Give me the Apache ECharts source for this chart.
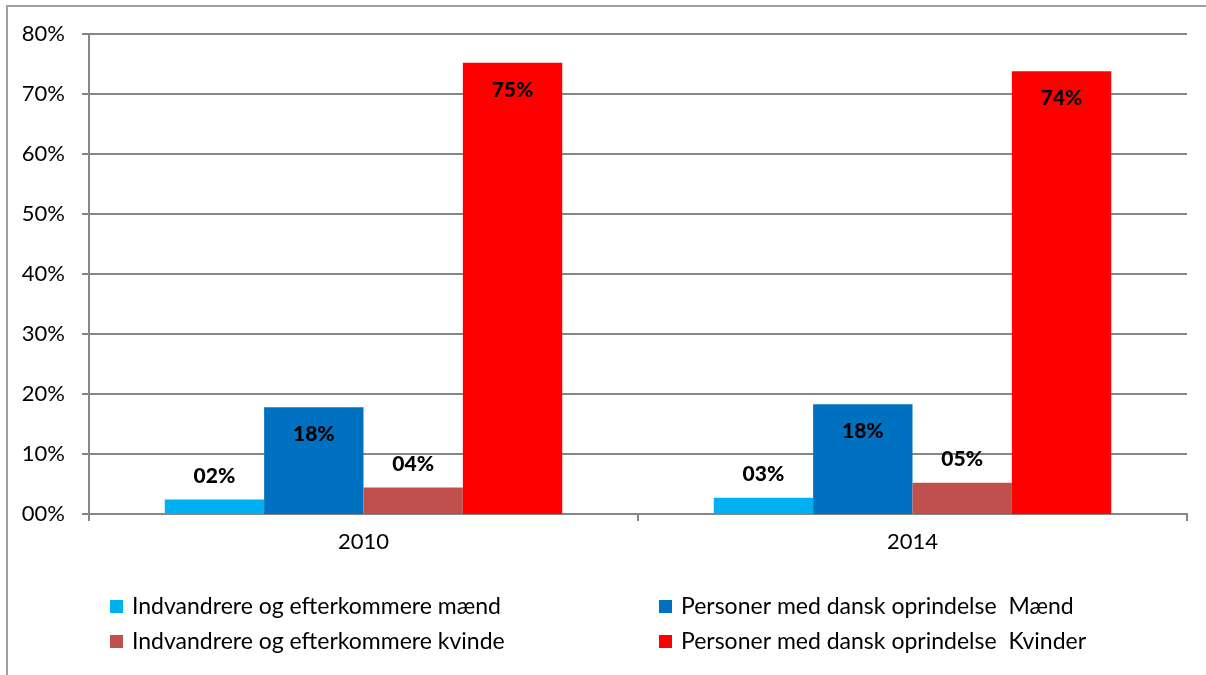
<!DOCTYPE html>
<html>
<head>
<meta charset="utf-8">
<script src="https://cdn.jsdelivr.net/npm/echarts@6/dist/echarts.min.js"></script>
<style>
  html, body { margin: 0; padding: 0; background: #fff; }
  #root { width: 1206px; height: 675px; }
</style>
</head>
<body>
<div id="root"></div>
<script>
  // data (percent)
  var years = ['2010', '2014'];
  var seriesNames = [
    'Indvandrere og efterkommere mænd',
    'Personer med dansk oprindelse  Mænd',
    'Indvandrere og efterkommere kvinde',
    'Personer med dansk oprindelse  Kvinder'
  ];
  var immMen = [2.4, 2.7];
  var danMen = [17.8, 18.3];
  var immWomen = [4.4, 5.2];
  var danWomen = [75.2, 73.8];
  var yTicks = [0, 10, 20, 30, 40, 50, 60, 70, 80];

  var colors = ['#00b0f0', '#0070c0', '#c0504d', '#ff0000'];
  var font = 'Lato, "Open Sans", sans-serif';

  var pad = function (v) {
    var r = Math.round(v);
    return (r < 10 ? '0' : '') + r + '%';
  };

  var mkSeries = function (i, values, inside) {
    return {
      name: seriesNames[i],
      type: 'bar',
      data: values,
      barWidth: '18.1%',
      barGap: '0%',
      barCategoryGap: '27.5%',
      itemStyle: { color: colors[i] },
      label: {
        show: true,
        position: inside ? 'insideTop' : 'top',
        distance: inside ? 17 : 13,
        color: '#000',
        fontWeight: 900,
        fontSize: 21,
        fontFamily: font,
        formatter: function (p) { return pad(p.value); }
      }
    };
  };

  var legendText = { fontSize: 23, lineHeight: 22, color: '#000', fontFamily: font, padding: [0, 0, 0, 4] };

  var chart = echarts.init(document.getElementById('root'));
  chart.setOption({
    animation: false,
    textStyle: { fontFamily: font },
    graphic: [{
      type: 'rect',
      shape: { x: 7, y: 6, width: 1220, height: 700 },
      style: { fill: 'none', stroke: '#a0a0a0', lineWidth: 2 },
      silent: true
    }],
    grid: { left: 89, right: 19, top: 34, bottom: 161 },
    legend: [{
      orient: 'vertical',
      left: 105,
      top: 590,
      itemWidth: 13,
      itemHeight: 13,
      itemGap: 12,
      icon: 'rect',
      data: [seriesNames[0], seriesNames[2]],
      textStyle: legendText
    }, {
      orient: 'vertical',
      left: 654,
      top: 590,
      itemWidth: 13,
      itemHeight: 13,
      itemGap: 12,
      icon: 'rect',
      data: [seriesNames[1], seriesNames[3]],
      textStyle: legendText
    }],
    xAxis: {
      type: 'category',
      data: years,
      axisLine: { lineStyle: { color: '#868686', width: 2 } },
      axisTick: { show: true, length: 7, lineStyle: { color: '#868686', width: 2 } },
      axisLabel: { fontSize: 22, color: '#000', margin: 17 }
    },
    yAxis: {
      type: 'value',
      min: yTicks[0],
      max: yTicks[yTicks.length - 1],
      interval: 10,
      axisLine: { show: true, lineStyle: { color: '#868686', width: 2 } },
      axisTick: { show: true, length: 7, lineStyle: { color: '#868686', width: 2 } },
      splitLine: { lineStyle: { color: '#868686', width: 2 } },
      axisLabel: {
        fontSize: 22,
        color: '#000',
        margin: 24,
        formatter: function (v) { return pad(v); }
      }
    },
    series: [
      mkSeries(0, immMen, false),
      mkSeries(1, danMen, true),
      mkSeries(2, immWomen, false),
      mkSeries(3, danWomen, true)
    ]
  });
</script>
</body>
</html>
